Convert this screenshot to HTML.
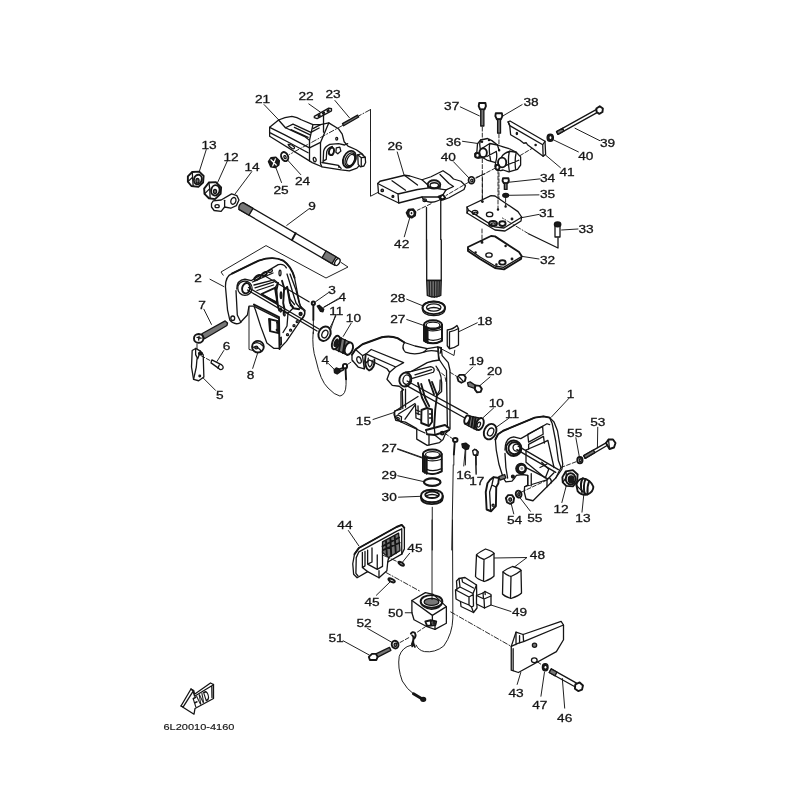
<!DOCTYPE html>
<html><head><meta charset="utf-8"><title>Parts diagram 6L20010-4160</title>
<style>
html,body{margin:0;padding:0;background:#fff;}
svg{display:block}
.d path,.d line,.d polyline,.d polygon,.d ellipse,.d circle,.d rect{fill:none;stroke:#151515;stroke-width:1.3;vector-effect:non-scaling-stroke;stroke-linejoin:round;stroke-linecap:round}
.d .w{fill:#fff}
.d .k{fill:#1a1a1a}
.d .g{fill:#777}
.d .t{stroke-width:0.95}
.d .h{stroke-width:1.9}
.d .dd{stroke-dasharray:5 2 1 2;stroke-width:0.9}
.d .da{stroke-dasharray:4 2;stroke-width:0.9}
.lb text{font-family:"Liberation Sans",sans-serif;font-size:11.6px;fill:#151515;stroke:#151515;stroke-width:0.3px;text-anchor:middle}
</style></head><body>
<svg width="800" height="800" viewBox="0 0 800 800">
<rect width="800" height="800" fill="#fff"/>
<g class="d">
<g transform="translate(260.0 95.0) scale(0.137500)"><!-- t01_p21.svg -->
<!-- part 21 body -->
<path class="w" d="M70,235 L135,182 Q180,160 232,155 Q270,160 300,180 L385,215 L440,215 L500,203 L570,245 L598,285 L612,340 L640,372 L700,398 L745,430 L765,460 L755,500 L725,510 L705,532 L650,552 L590,545 L450,522 L380,492 L70,300 Z"/>
<path d="M70,235 L180,290 L360,385 L360,480"/>
<path d="M75,275 L200,340 L350,420"/>
<path d="M135,182 L185,238 L240,212 L370,272 L430,240"/>
<path d="M185,238 L330,305 L360,330 L360,385"/>
<path d="M225,252 L350,308"/>
<path d="M250,235 L365,290"/>
<path d="M360,330 L385,215"/>
<path d="M385,245 L440,215"/>
<path d="M360,385 L440,345 L500,203"/>
<path d="M440,345 L440,500 L450,522"/>







<path d="M205,360 Q225,355 250,378 Q255,395 235,390 Q210,378 205,360 Z"/>
<ellipse cx="398" cy="470" rx="10" ry="16" transform="rotate(-15 398 470)"/>
<ellipse cx="558" cy="318" rx="7" ry="10"/>
<!-- 22 plate -->
<path class="w" d="M395,155 L500,95 L520,100 L520,115 L415,172 L395,165 Z"/>
<ellipse cx="430" cy="150" rx="8" ry="5" transform="rotate(-30 430 150)"/>
<ellipse cx="462" cy="132" rx="8" ry="5" transform="rotate(-30 462 132)"/>
<ellipse cx="495" cy="113" rx="8" ry="5" transform="rotate(-30 495 113)"/>
<path d="M462,138 L462,270"/>
<!-- 23 stud -->
<path d="M600,208 L710,146 L718,160 L608,224 Z" class="g"/>
<!-- dash-dot line -->
<path class="dd" d="M800,108 L722,150"/>
<path class="dd" d="M600,222 L215,432"/>
<!-- leaders -->
<path class="t" d="M30,70 L135,180"/>
<path class="t" d="M355,65 L440,125"/>
<path class="t" d="M545,40 L650,165"/>
</g>
<g transform="translate(300.0 110.0) scale(0.087500)"><!-- t01b_p21r.svg -->
<path d="M265,585 L270,470 Q280,420 340,392 L440,385 L510,400 L545,385"/>
<path d="M300,565 L305,480 Q315,430 370,415 M300,565 L265,585"/>
<ellipse class="h" cx="360" cy="472" rx="28" ry="44" transform="rotate(15 360 472)"/>
<path d="M415,432 L455,425 L467,470 L432,500 L410,482 Z"/>
<ellipse class="w h" cx="565" cy="562" rx="68" ry="100" transform="rotate(25 565 562)"/>
<ellipse cx="572" cy="568" rx="52" ry="82" transform="rotate(25 572 568)"/>
<ellipse cx="580" cy="572" rx="40" ry="68" transform="rotate(25 580 572)"/>
<path d="M250,600 L440,632 L470,668 M440,632 L445,655"/>
<path class="w" d="M660,512 L700,500 L745,540 L750,600 L730,640 L690,650 L665,622 Z"/>
<path d="M700,545 L700,642 M700,545 L745,540 M660,512 L700,545"/>
</g>
<g transform="translate(180.0 130.0) scale(0.175000)"><!-- t02_nuts.svg -->
<!-- nut 13 -->
<path class="w h" d="M45,265 L70,240 L110,238 L135,262 L132,300 L105,325 L65,320 L45,295 Z"/>
<path d="M70,240 L72,270 L45,295 M72,270 L75,318"/>
<ellipse class="h" cx="102" cy="283" rx="22" ry="28" transform="rotate(15 102 283)"/>
<ellipse class="g" cx="100" cy="290" rx="9" ry="13"/>
<!-- nut 12 -->
<path class="w h" d="M138,335 L165,300 L205,298 L235,328 L232,365 L200,395 L165,390 L140,365 Z"/>
<path d="M165,300 L170,335 L140,365 M170,335 L172,388"/>
<ellipse class="h" cx="202" cy="345" rx="24" ry="30" transform="rotate(15 202 345)"/>
<ellipse class="g" cx="200" cy="352" rx="9" ry="12"/>
<!-- 14 bracket -->
<path class="w" d="M180,420 L190,405 L235,400 L295,365 L325,375 L337,400 L322,432 L290,447 L255,440 L235,465 L195,460 L180,440 Z"/>
<path d="M255,402 L255,440"/>
<ellipse cx="212" cy="435" rx="12" ry="9"/>
<ellipse cx="305" cy="405" rx="14" ry="20" transform="rotate(20 305 405)"/>
<!-- nut 25 -->
<path class="k" d="M505,180 L520,158 L548,155 L568,175 L565,200 L545,215 L518,210 Z"/>
<path d="M520,170 L550,200 M545,165 L530,205" style="stroke:#fff"/>
<!-- washer 24 -->
<ellipse class="w h" cx="598" cy="152" rx="19" ry="27" transform="rotate(-25 598 152)"/>
<ellipse cx="600" cy="155" rx="6" ry="9" transform="rotate(-25 600 155)"/>
<!-- leaders -->
<path class="t" d="M150,112 L110,238 M270,178 L215,300 M410,238 L315,365 M690,255 L615,172 M580,300 L545,208 M735,452 L610,545"/>
</g>
<g transform="translate(210.0 190.0) scale(0.200000)"><!-- t03_shaft.svg -->
<!-- shaft 9 -->
<path class="w" d="M165,63 L645,343 L625,377 L145,97 Z"/>
<path class="g" d="M165,63 L215,92 L195,126 L145,97 Q140,70 165,63 Z"/>
<path class="g" d="M580,305 L630,334 L610,368 L560,339 Z"/>
<ellipse class="w" cx="637" cy="360" rx="11" ry="19" transform="rotate(30 637 360)"/>
<path d="M428,216 L410,250" class="h"/>
<!-- frame -->
<path class="t" d="M66,426 L55,410 L280,278 L580,440 L690,385 L655,362"/>
</g>
<g transform="translate(210.0 250.0) scale(0.162500)"><!-- t04_br2.svg -->
<!-- bracket 2 -->
<path class="w" d="M95,225 Q95,160 135,145 L300,65 Q390,35 450,65 Q500,100 520,170 L545,300 L555,345 L585,372 L580,400 L470,562 L430,605 L392,605 L350,572 L312,470 L280,370 L270,345 L240,345 L230,400 L185,448 Q150,465 122,432 L108,370 Z"/>
<path class="h" d="M135,145 L300,65 Q390,35 450,65 Q500,100 520,170"/>
<path d="M160,250 L168,400 L190,445"/>
<path d="M165,240 Q165,185 215,180 L255,188 L420,90 Q455,82 470,110"/>
<circle cx="215" cy="235" r="44"/>
<ellipse class="h" cx="222" cy="235" rx="24" ry="32" transform="rotate(15 222 235)"/>
<ellipse cx="140" cy="420" rx="12" ry="14"/>
<!-- rods -->

<!-- 3 clip -->
<circle class="w h" cx="636" cy="327" r="10"/>
<path class="h" d="M636,338 L636,430"/>
<path class="t" d="M636,430 L636,515"/>
<!-- 4 screw -->
<path class="k" d="M660,345 L672,340 L700,365 L695,380 L680,378 Z"/>
<!-- 11 washer -->
<ellipse class="w h" cx="705" cy="515" rx="36" ry="46" transform="rotate(25 705 515)"/>
<ellipse cx="707" cy="517" rx="17" ry="25" transform="rotate(25 707 517)"/>
<!-- 8 grommet -->
<circle class="w h" cx="295" cy="595" r="36"/>
<path d="M270,575 Q300,560 325,590 M262,600 Q290,585 315,622"/>
<circle cx="285" cy="600" r="9"/>
<!-- bracket line for 8 -->
<path class="t" d="M240,350 L240,612 L262,618"/>
<!-- leaders -->
<path class="t" d="M0,180 L85,225 M730,262 L650,318 M800,298 L700,352 M775,405 L735,485"/>
</g>
<g transform="translate(240.0 270.0) scale(0.100000)"><!-- t04b_br2in.svg -->
<!-- upper plate slots -->
<ellipse class="h" cx="175" cy="75" rx="38" ry="17" transform="rotate(-35 175 75)"/>
<ellipse class="h" cx="245" cy="40" rx="28" ry="14" transform="rotate(-35 245 40)"/>
<ellipse cx="305" cy="12" rx="22" ry="11" transform="rotate(-30 305 12)"/>
<ellipse cx="400" cy="30" rx="10" ry="28"/>
<!-- upper plate edges & ribs -->
<path d="M125,120 L330,30 M140,150 L340,98 L380,130 M150,178 L335,122 M170,205 L335,150"/>
<!-- triangular window -->
<path class="h" d="M215,240 L350,178 L375,335 Z"/>
<path d="M228,252 L368,322 M350,178 L380,130"/>
<!-- strut -->
<path class="h" d="M380,130 L365,200 L375,340 L392,405 M420,108 L442,180 L432,330 L447,400"/>
<ellipse class="k" cx="410" cy="252" rx="8" ry="34"/>
<ellipse cx="407" cy="400" rx="8" ry="20"/><ellipse cx="442" cy="440" rx="8" ry="20" transform="rotate(-15 442 440)"/>
<!-- right plates -->
<path d="M470,40 L520,200 L560,330 L600,380 M500,40 L560,200 L592,330 L618,388"/>
<path class="h" d="M440,200 L472,168 L482,232 L500,330 L532,382 L592,392"/>
<path d="M472,168 L500,290 L545,345 M505,355 Q530,350 535,380"/>
<!-- lower right boss and holes -->
<path d="M600,380 Q650,395 648,440 Q640,480 600,505 M530,382 L480,432 L420,402"/>
<circle class="h" cx="606" cy="440" r="12"/>
<circle cx="572" cy="517" r="10"/><circle cx="540" cy="557" r="10"/><circle cx="506" cy="602" r="10"/><circle cx="475" cy="647" r="10"/>
<path d="M480,432 L470,560 L430,625"/>
<!-- lower body -->
<path class="h" d="M140,345 L390,472 L395,790"/>
<path d="M152,368 L382,484 M140,345 L152,368"/>
<path class="h" d="M290,490 L380,512 L385,632 L300,612 Z"/>
<path d="M305,505 L305,600 M370,520 L372,620"/>
<circle class="k" cx="372" cy="525" r="5"/><circle class="k" cx="368" cy="600" r="5"/>
<path d="M397,682 L412,672 L414,742 L399,752 Z"/>
<!-- rods -->
<path d="M85,175 L790,590 M75,200 L770,610 M250,60 L690,318"/>
</g>
<g transform="translate(175.0 290.0) scale(0.137500)"><!-- t05_p7.svg -->
<!-- screw 7 -->
<path class="g" d="M195,318 L365,225 L382,240 L378,258 L215,355 Z"/>
<ellipse class="w h" cx="172" cy="352" rx="34" ry="32"/>
<path d="M160,345 L190,350 M175,335 L172,365"/>
<path class="t" d="M160,395 L160,430"/>
<!-- 5 plate -->
<path class="w" d="M125,440 L150,425 L185,445 L205,470 L210,632 L172,660 L135,650 L120,560 Z"/>
<path d="M150,425 L150,470 L165,500 L185,445 M135,650 L155,560 L160,500"/>
<ellipse class="k" cx="185" cy="462" rx="14" ry="10"/>
<circle cx="180" cy="625" r="6"/>
<!-- 6 pin -->
<path class="w" d="M268,508 L340,545 Q358,560 345,575 Q330,585 318,570 L262,530 Z"/>
<path d="M322,545 L312,568"/>
<path class="da" d="M190,478 L265,518"/>
<!-- leaders -->
<path class="t" d="M210,140 L265,250 M355,440 L305,520 M600,462 L565,570 M295,730 L205,640"/>
</g>
<g transform="translate(345.0 325.0) scale(0.175000)"><!-- t06_p15.svg -->
<!-- part 15 swivel bracket -->
<path class="w" d="M40,170 L60,140 L100,110 L210,70 Q260,60 300,75 L340,100 L400,120 L470,135 L530,125 L550,130 L555,175 L590,215 L600,260 L600,595 L575,618 L560,655 L540,672 L470,688 L410,652 L410,592 L345,555 L290,545 L280,510 L285,490 L320,480 L320,380 L335,370 L310,350 L270,345 L240,310 L255,270 L240,250 L140,200 L120,215 L110,250 L75,240 L40,200 Z"/>
<path class="h" d="M40,170 L60,140 L100,110 L210,70 Q260,60 300,75 L340,100"/>
<ellipse cx="80" cy="200" rx="12" ry="19" transform="rotate(-20 80 200)"/>
<path d="M60,140 L100,175 L110,250 M100,175 L120,165"/>
<path d="M120,165 L150,140 L335,215 L290,240 L255,270 M120,165 L290,240"/>
<path class="h" d="M118,172 Q105,240 138,260 Q172,245 168,197"/><path d="M133,190 Q126,230 142,240 Q158,230 155,202"/>
<path d="M340,100 Q320,130 345,155 Q400,175 450,155 L470,135"/>
<path d="M450,155 Q480,140 530,150 L540,200 M530,125 L535,195 M550,130 L545,160"/>
<path d="M540,200 Q500,205 470,215 L380,265 L345,270"/>
<ellipse class="h" cx="345" cy="312" rx="34" ry="40" transform="rotate(15 345 312)"/>
<ellipse cx="352" cy="312" rx="20" ry="27" transform="rotate(15 352 312)"/>
<path d="M350,272 L490,238 Q520,245 505,270 L385,305 M400,285 L495,255"/>
<path d="M540,200 L580,260 L585,585 M520,235 Q560,280 552,380 L530,400"/>
<path class="da" d="M525,255 L570,290 L580,335"/>
<!-- rods -->
<path d="M355,320 L700,508 M345,342 L682,530"/>
<!-- 19 washer & 20 bolt -->
<path class="da t" d="M600,270 L642,296"/>
<path class="w h" d="M642,300 L655,285 L680,285 L690,300 L685,320 L665,330 L648,320 Z"/>
<path d="M655,300 L672,318"/>
<path class="g" d="M700,330 L715,325 L745,345 L740,362 L705,350 Z"/>
<path class="w h" d="M745,345 L770,348 L782,365 L775,382 L755,385 L742,368 Z"/>
<!-- lower clip, 16, 17 -->
<path class="da t" d="M572,620 L615,650"/>
<ellipse class="w h" cx="630" cy="657" rx="13" ry="11"/>
<path class="h" d="M627,668 L622,740"/>
<path class="t" d="M622,740 L622,800"/>
<path class="k" d="M668,680 L690,675 L710,690 L705,708 L690,712 L672,700 Z"/>
<path class="t" d="M690,712 L688,800"/>
<path class="w" d="M735,725 L748,712 L762,725 L758,745 L740,745 Z"/>
<path class="t" d="M750,745 L750,800"/>
<!-- leaders -->
<path class="t" d="M730,240 L680,290 M160,540 L280,500 M300,710 L440,760"/>
</g>
<g transform="translate(385.0 370.0) scale(0.100000)"><!-- t06b_p15in.svg -->
<!-- left leg -->
<path d="M172,185 L178,385 M205,192 L205,372"/>
<!-- diagonals -->
<path d="M95,415 L330,265 M135,440 L300,335"/>
<!-- lower-left lug -->
<path d="M95,415 L100,470 L130,500 L160,520 M100,470 L130,450 L165,468 L162,520"/>
<ellipse cx="130" cy="485" rx="14" ry="9" transform="rotate(30 130 485)"/>
<!-- floor & inner wall -->
<path d="M160,520 L400,630 M200,492 L300,352 L305,345 L310,480 L362,502 M330,360 L332,445"/>
<path d="M310,400 L350,415 M310,430 L350,445"/>
<!-- center ribs -->
<path class="h" d="M330,130 L372,282 L422,382 M362,140 L402,282 L442,362"/>
<path class="h" d="M470,120 L520,250 L502,400 L492,562 M440,100 L490,242"/>
<path d="M520,250 L548,200 L552,100"/>
<!-- center box -->
<path class="h" d="M365,400 L420,380 L470,395 L470,520 L440,560 L362,530 Z"/>
<path d="M430,400 L432,545 M445,440 L470,440 M445,480 L470,480"/>
<!-- bottom flange -->
<path class="h" d="M410,600 L600,550 L640,580 M420,642 L500,650 L640,602"/>
<path d="M410,600 L420,642 M492,562 L500,650"/>
<!-- lower cylinder -->
<path d="M440,650 L440,750 M500,652 L560,700"/>
<circle class="h" cx="572" cy="632" r="14"/>
</g>
<g transform="translate(365.0 140.0) scale(0.150000)"><!-- t07_p26.svg -->
<!-- tube upper -->
<path class="w" d="M410,440 L410,800 L505,800 L505,385 Z" style="stroke:none"/>
<path d="M410,450 L410,800 M505,392 L505,800"/>
<!-- part 26 -->
<path class="w" d="M85,290 L100,275 L265,235 L300,240 L380,265 L440,245 L520,205 L565,235 L590,260 L640,275 L670,305 L660,330 L560,385 L520,400 L500,380 L380,380 L225,420 L90,355 Z"/>
<path d="M85,290 L220,360 L225,420 M220,360 L350,330 L440,318"/>
<path d="M180,272 L270,335 M265,237 L350,300"/>
<path d="M380,265 L440,318 L540,332 L590,310 L560,290 L500,230"/>
<path d="M540,332 L520,365 L500,380"/>
<ellipse class="w h" cx="460" cy="296" rx="42" ry="28"/>
<ellipse cx="462" cy="302" rx="28" ry="17"/>
<path d="M420,300 L420,318 M500,300 L500,322"/>
<path d="M380,380 Q390,410 440,415 Q490,410 505,392"/>
<path class="h" d="M490,378 L520,365 L535,385 L510,400 Z"/>
<ellipse cx="398" cy="402" rx="12" ry="9"/>
<circle class="g" cx="115" cy="336" r="8"/>
<circle class="g" cx="186" cy="376" r="6"/>
<!-- line from 23 -->
<path class="t" d="M36.7,0 L36.7,375 L85,350"/>
<!-- 40 washer -->
<ellipse class="w" cx="710" cy="268" rx="20" ry="23" style="stroke-width:1.7"/>
<ellipse cx="712" cy="270" rx="7" ry="9"/>
<path class="t" d="M740,250 L800,225"/>
<path class="da t" d="M690,282 L540,370 M440,425 L350,468"/>
<!-- 42 nut -->
<path class="k" d="M275,485 L290,462 L322,460 L338,480 L335,505 L312,520 L288,512 Z"/>
<ellipse cx="310" cy="488" rx="10" ry="12" style="stroke:#fff"/>
<!-- leaders -->
<path class="t" d="M215,80 L260,232 M590,145 L692,252 M262,645 L298,520"/>
</g>
<g transform="translate(385.0 240.0) scale(0.150000)"><!-- t08_tube.svg -->
<!-- tube lower -->
<path class="w" d="M278,0 L278,270 L375,270 L375,0" />
<path class="g" d="M278,270 L375,270 L372,370 Q325,390 282,370 Z"/>
<path d="M295,275 L297,375 M312,275 L313,380 M330,275 L330,382 M347,275 L346,380 M362,275 L360,375" style="stroke:#222"/>
<!-- 28 washer -->
<path class="w" d="M250,452 Q250,412 325,410 Q400,412 400,452 L400,462 Q400,502 325,504 Q250,502 250,462 Z"/>
<ellipse class="h" cx="325" cy="452" rx="75" ry="42"/>
<ellipse cx="325" cy="450" rx="48" ry="24"/>
<path d="M282,460 Q325,440 368,460"/>
<!-- 27 bushing -->
<path class="w" d="M260,565 L260,670 Q320,705 380,670 L380,565 Z"/>
<ellipse class="w h" cx="320" cy="565" rx="60" ry="30"/>
<ellipse cx="320" cy="568" rx="46" ry="20"/>
<path class="h" d="M260,565 L260,672 Q320,706 380,672 L380,565"/>
<path class="h" d="M272,580 L272,680 M284,590 L284,686"/>
<path d="M284,600 Q320,615 380,595 M284,660 Q320,680 380,655"/>
<!-- 18 shim -->
<path class="w" d="M415,600 Q455,595 480,570 L490,590 L490,700 Q460,722 430,725 L415,705 Z"/>
<path d="M430,612 L430,722 M430,612 Q465,605 490,590"/>
<path class="t" d="M360,760 L355,715 L460,770 L465,735"/>
<!-- leaders -->
<path class="t" d="M145,395 L255,440 M145,530 L265,572 M615,552 L495,610"/>
</g>
<g transform="translate(440.0 90.0) scale(0.225000)"><!-- t09_p36.svg -->
<!-- bolt 37 -->
<path class="w h" d="M174,58 L202,58 L204,72 L198,86 L178,86 L172,72 Z"/>
<path class="g" d="M181,86 L195,86 L195,160 L181,160 Z"/>
<!-- bolt 38 -->
<path class="w h" d="M248,103 L275,103 L277,116 L271,130 L253,130 L246,116 Z"/>
<path class="g" d="M256,130 L269,130 L269,192 L256,192 Z"/>
<path class="da t" d="M188,165 L188,225 M262,195 L262,262 M188,305 L188,489 M262,368 L262,489"/>
<!-- 40 left dashed -->
<path class="da t" d="M160,392 L250,345"/>
<path class="da t" d="M355,292 L425,250"/>
<!-- 40 right washer -->
<ellipse class="k" cx="490" cy="212" rx="14" ry="16"/>
<ellipse cx="491" cy="212" rx="4" ry="6" style="stroke:none;fill:#fff"/>
<!-- 39 bolt -->
<path class="w" d="M518,185 L700,84 L706,96 L524,197 Z"/>
<path class="g" d="M518,185 L545,170 L551,182 L524,197 Z"/>
<path class="w h" d="M695,82 L710,72 L724,82 L722,98 L708,106 L696,98 Z"/>
<!-- 34 bolt -->
<path class="w h" d="M280,392 L304,392 L306,404 L300,414 L284,414 L278,404 Z"/>
<path class="g" d="M286,414 L298,414 L298,442 L286,442 Z"/>
<!-- 35 -->
<ellipse class="k" cx="292" cy="468" rx="13" ry="9"/>
<!-- leaders -->
<path class="t" d="M90,75 L175,115 M365,65 L280,115 M100,228 L170,238 M535,345 L470,290 M615,275 L505,222 M710,225 L600,170 M445,395 L306,410 M440,466 L308,468"/>
</g>
<g transform="translate(450.0 170.0) scale(0.200000)"><!-- t10_p31.svg -->
<!-- 31 plate -->
<path class="w" d="M85,185 L205,128 L225,130 L340,208 L358,235 L355,255 L275,305 L225,300 L150,255 L85,215 Z"/>
<path d="M85,185 L92,200 L150,238 L222,284 L270,290 L352,240 L358,235 M92,200 L85,215"/>
<ellipse cx="125" cy="212" rx="14" ry="10"/><path d="M115,218 Q125,205 138,214"/>
<ellipse cx="198" cy="222" rx="16" ry="11"/>
<ellipse class="h" cx="215" cy="268" rx="20" ry="13"/><ellipse cx="217" cy="270" rx="10" ry="6"/>
<ellipse class="h" cx="262" cy="268" rx="16" ry="12"/>
<circle cx="162" cy="158" r="4"/><circle cx="240" cy="198" r="3"/><circle cx="278" cy="182" r="3"/><circle cx="310" cy="245" r="4"/>
<!-- 32 gasket -->
<path class="w h" d="M90,385 L205,330 L225,332 L345,410 L358,430 L355,445 L270,497 L225,490 L150,445 L90,405 Z"/>
<path d="M92,395 L150,435 L225,480 L268,487 L352,437"/>
<ellipse cx="195" cy="425" rx="16" ry="11"/>
<ellipse class="h" cx="262" cy="462" rx="16" ry="11"/>
<circle cx="160" cy="362" r="4"/><circle cx="128" cy="412" r="3"/><circle cx="278" cy="380" r="3"/><circle cx="310" cy="445" r="4"/><circle cx="232" cy="472" r="3"/>
<!-- 33 pin -->
<path class="w" d="M525,280 L525,335 L550,335 L550,280 Z"/>
<ellipse class="k" cx="538" cy="272" rx="16" ry="12"/>
<path d="M540,340 L540,390 L395,320"/>
<path class="dd" d="M395,320 L262,240"/>
<!-- vertical lines -->
<path class="da t" d="M162,40 L162,152 M240,0 L240,192 M278,140 L278,178 M160,295 L160,358"/>
<!-- leaders -->
<path class="t" d="M445,222 L360,238 M640,295 L558,300 M445,445 L360,432"/>
</g>
<g transform="translate(470.0 380.0) scale(0.175000)"><!-- t11_br1.svg -->
<!-- bracket 1 -->
<path class="w" d="M145,340 L160,310 L190,290 L370,215 L420,208 L455,215 L480,240 L500,290 L515,380 L530,480 L525,510 L490,560 L440,610 L360,690 L320,680 L310,640 L312,610 L330,600 L330,545 L300,540 L265,545 L255,560 L240,578 L205,582 L190,560 L165,480 L150,400 Z"/>
<path class="h" d="M145,340 L160,310 L190,290 L370,215 L420,208 L455,215"/>
<path d="M455,215 L470,250 L490,350 L505,460 L520,500 L490,560"/>
<path d="M200,420 L205,500 L215,560 M200,400 Q200,330 250,325 L290,335 L440,250 L455,255"/>
<circle class="w h" cx="250" cy="390" r="44"/>
<circle class="h" cx="254" cy="390" r="34"/>
<circle class="w" cx="266" cy="386" r="20"/>
<circle class="k" cx="292" cy="506" r="30"/>
<circle cx="296" cy="506" r="12" style="stroke:#fff;fill:#999"/>
<path d="M330,310 L415,265 L418,310 L335,355 Z M335,368 L420,322 L425,360 M335,368 L335,395"/>
<path d="M320,400 L425,355 L445,345 L480,500 M320,400 L320,470 L430,560 M410,470 L450,510 L430,560 M400,500 L440,480"/>
<path d="M330,545 L330,600 M350,535 L350,605 M312,610 L440,570 L480,530"/>
<path d="M440,570 L440,610 M455,560 Q470,575 462,590"/>
<!-- rods -->
<path d="M275,378 L505,512 M268,398 L490,528 M315,498 L445,565"/>
<path class="da t" d="M520,500 L612,465 M295,640 L440,572"/>
<!-- lever -->
<path class="w h" d="M115,570 L135,555 L165,560 L162,590 L150,612 L148,720 L120,750 L95,740 L90,640 L100,590 Z"/>
<path d="M135,555 L125,600 L112,640 L118,748 M125,600 L150,612"/>
<circle cx="132" cy="716" r="6"/>
<path class="g" d="M165,552 L198,540 L205,560 L172,572 Z"/>
<circle class="k" cx="245" cy="552" r="8"/>
<!-- 54 nut -->
<path class="w h" d="M205,675 L218,658 L240,658 L252,675 L248,698 L230,708 L212,700 Z"/>
<ellipse class="g" cx="230" cy="683" rx="8" ry="10"/>
<!-- 55 washers -->
<ellipse class="w h" cx="278" cy="652" rx="16" ry="20" transform="rotate(-20 278 652)"/>
<ellipse class="g" cx="279" cy="653" rx="6" ry="9"/>
<ellipse class="w h" cx="628" cy="458" rx="15" ry="18"/>
<ellipse cx="630" cy="458" rx="6" ry="8"/>
<!-- 53 bolt -->
<path class="w" d="M650,432 L790,352 L798,366 L658,448 Z"/>
<path class="g" d="M650,432 L705,400 L713,415 L658,448 Z"/>

<!-- 12 nut -->
<path class="w h" d="M528,555 L548,522 L588,515 L615,540 L612,580 L588,608 L550,605 L530,585 Z"/>
<ellipse class="h" cx="575" cy="565" rx="28" ry="32"/>
<ellipse class="k" cx="578" cy="568" rx="16" ry="20"/>
<path d="M548,522 L552,555 L530,585"/>
<!-- 13 cap nut -->
<path class="w h" d="M608,600 Q612,570 645,562 Q690,570 705,610 Q705,640 670,655 Q635,660 615,635 Z"/>
<path class="h" d="M645,562 Q625,590 640,640 M660,566 Q645,600 655,650 M680,580 Q668,610 672,652"/>
<path d="M608,600 Q625,625 670,655"/>
<!-- 11 washer & 10 & 17 -->
<ellipse class="w h" cx="115" cy="295" rx="34" ry="46" transform="rotate(25 115 295)"/>
<ellipse cx="118" cy="297" rx="16" ry="24" transform="rotate(25 118 297)"/>
<path class="w" d="M15,405 L28,395 L42,408 L38,428 L20,428 Z"/>
<!-- leaders -->
<path class="t" d="M565,105 L465,212 M135,160 L75,215 M220,220 L150,270 M730,270 L728,388 M605,330 L625,440 M32,432 L35,540 M525,700 L550,605 M640,755 L650,658 M345,750 L285,672 M250,765 L235,705"/>
</g>
<g transform="translate(440.0 390.0) scale(0.100000)"><!-- t12_b10.svg -->
<path class="g" d="M265,255 L390,280 L365,400 L248,340 Z"/>
<path d="M300,265 L285,355 M330,270 L315,372 M355,276 L340,385" class="h"/>
<ellipse class="w h" cx="270" cy="296" rx="24" ry="44" transform="rotate(22 270 296)"/>
<ellipse class="w h" cx="398" cy="340" rx="36" ry="62" transform="rotate(20 398 340)"/>
<ellipse class="w" cx="388" cy="346" rx="15" ry="26" transform="rotate(20 388 346)"/>
</g>
<g transform="translate(310.0 290.0) scale(0.175000)"><!-- t13_b10l.svg -->
<path class="g" d="M150,262 L232,300 L215,372 L140,338 Z"/>
<path class="h" d="M178,275 L165,350 M200,285 L188,360"/>
<ellipse class="w h" cx="148" cy="300" rx="20" ry="40" transform="rotate(20 148 300)"/>
<ellipse class="k" cx="150" cy="302" rx="10" ry="22" transform="rotate(20 150 302)"/>
<ellipse class="w h" cx="222" cy="335" rx="22" ry="36" transform="rotate(20 222 335)"/>
<!-- wire arc from clip 3 -->
<path class="t" d="M18,240 Q10,330 34,400 Q60,520 103,560 Q140,600 171,606 Q205,600 206,540 L206,505"/>
<!-- lower screw 4 and clip -->
<path class="k" d="M138,455 L150,445 L168,452 L170,470 L155,480 L140,472 Z"/>
<path class="g" d="M168,452 L188,444 L192,456 L172,466 Z"/>
<ellipse class="w h" cx="200" cy="435" rx="12" ry="13"/>
<path class="h" d="M203,448 L206,510"/>
<path class="da t" d="M215,425 L245,405"/>
<!-- upper 4 screw head -->
<path class="t" d="M145,145 L115,235 M235,190 L190,265 M105,420 L140,455 M160,50 L80,98"/>
</g>
<g transform="translate(370.0 430.0) scale(0.150000)"><!-- t14_p27.svg -->
<!-- 27 bushing -->
<path class="w" d="M353,160 L353,275 Q415,312 478,275 L478,160 Z"/>
<ellipse class="w h" cx="415" cy="160" rx="62" ry="30"/>
<ellipse cx="417" cy="164" rx="47" ry="20"/>
<path class="h" d="M353,160 L353,276 Q415,312 478,276 L478,160"/>
<path class="h" d="M365,178 L365,285 M378,188 L378,292"/>
<path d="M378,200 Q420,215 478,195 M378,262 Q420,282 478,258"/>
<!-- 29 o-ring -->
<ellipse class="w" cx="415" cy="348" rx="55" ry="25" style="stroke-width:2.2"/>
<!-- 30 seal -->
<path class="w h" d="M340,440 Q340,400 412,398 Q485,400 485,440 L485,452 Q485,492 412,494 Q340,492 340,452 Z"/>
<path class="h" d="M340,440 Q340,480 412,482 Q485,480 485,440"/>
<ellipse class="h" cx="414" cy="432" rx="46" ry="21"/>
<path d="M372,440 Q414,420 456,440"/>
<!-- vertical line -->
<path class="t" d="M415,515 L415,800"/>
<path class="t" d="M555,233 L545,800"/>
<!-- leaders -->
<path class="t" d="M185,125 L355,185 M185,305 L362,345 M190,448 L340,442 M635,130 L625,240 M705,175 L708,290"/>
</g>
<g transform="translate(330.0 520.0) scale(0.175000)"><!-- t15_p44.svg -->
<!-- part 44 -->
<path class="w" d="M130,250 L140,195 L165,160 L380,40 L410,28 L425,45 L425,165 L410,195 L330,240 L325,290 L280,330 L215,295 L155,330 L135,310 Z"/>
<path class="h" d="M140,195 L165,160 L380,40 L410,28 L425,45"/>
<path d="M150,215 L165,182 L385,62 L408,52 M150,215 L148,305 L160,320 M410,50 L410,195"/>
<path d="M185,185 L185,272 L215,295 M185,272 L200,262 L200,180 M215,172 L215,252 L270,282 L300,265 L300,180 M240,160 L240,240 M270,282 L270,200 M215,252 L240,240 M280,330 L280,290"/>
<path class="g" d="M300,125 L392,75 L400,175 L335,215 L300,185 Z"/>
<path class="h" d="M320,120 L325,200 M345,105 L350,205 M370,92 L376,190 M300,150 L395,100 M302,172 L398,130"/>
<path d="M330,240 L335,215"/>
<!-- 45 pins -->
<ellipse class="w h" cx="407" cy="250" rx="18" ry="7" transform="rotate(30 407 250)"/>
<ellipse class="w h" cx="352" cy="345" rx="20" ry="8" transform="rotate(25 352 345)"/>
<path class="dd" d="M300,200 L390,240 M320,300 L520,410"/>
<!-- part 50 -->
<path class="w" d="M468,460 L545,415 L590,425 L665,495 L665,590 L600,625 L555,610 L480,570 L468,530 Z"/>
<path d="M468,460 L585,545 L665,495 M585,545 L585,575 M600,600 L600,625"/>
<ellipse class="h" cx="580" cy="465" rx="62" ry="36"/>
<ellipse class="g" cx="580" cy="468" rx="42" ry="20"/>
<path d="M520,470 Q525,505 580,510 Q635,505 642,470"/>
<path class="h" d="M545,580 L575,573 L607,580 L602,600 L555,606 Z M575,573 L578,600"/>
<circle cx="592" cy="588" r="5"/>
<!-- vertical line into hole -->
<path class="t" d="M583,0 L583,455"/>
<!-- wire -->
<path class="t" d="M700,0 L702,560 Q700,650 650,720 Q600,760 540,752 Q505,745 492,715"/>
<!-- clip -->
<path class="h" d="M462,650 Q470,635 485,645 Q495,665 478,680 Q470,700 485,725 M470,660 Q480,665 475,690 Q465,710 470,722"/>

<path class="da t" d="M400,700 L458,668 M500,640 L545,610"/>
<!-- 52 washer -->
<ellipse class="w h" cx="372" cy="712" rx="19" ry="22" transform="rotate(-15 372 712)"/>
<ellipse class="g" cx="374" cy="713" rx="8" ry="10"/>
<!-- 51 bolt -->
<path class="g" d="M262,765 L340,728 L348,745 L270,785 Z"/>
<path class="w h" d="M222,782 L240,765 L262,765 L272,782 L265,800 L228,800 Z"/>
<!-- line to 43 -->

<!-- leaders -->
<path class="t" d="M105,60 L165,148 M455,190 L415,240 M265,430 L342,355 M430,530 L470,530 M215,620 L355,700 M75,690 L225,772"/>
</g>
<g transform="translate(440.0 530.0) scale(0.237500)"><!-- t16_p43.svg -->
<!-- 43 plate -->
<path class="w" d="M300,490 L320,430 L350,440 L510,385 L520,400 L520,462 L490,512 L330,600 L300,590 Z"/>
<path d="M300,490 Q330,475 352,470 L520,400 M320,430 L320,482 M335,445 L335,476 M350,440 L352,470 M308,500 L308,592"/>
<circle class="g" cx="398" cy="485" r="9"/>
<ellipse cx="397" cy="548" rx="12" ry="10"/>
<!-- 47, 46 -->
<path class="da t" d="M410,555 L432,570"/>
<ellipse class="k" cx="443" cy="578" rx="12" ry="15"/>
<ellipse cx="444" cy="578" rx="4" ry="5" style="stroke:none;fill:#fff"/>
<path class="w" d="M468,585 L575,645 L568,660 L460,600 Z"/>
<path class="g" d="M468,585 L492,598 L485,614 L460,600 Z"/>
<path class="w h" d="M570,650 L588,642 L602,655 L598,672 L582,678 L568,668 Z"/>
<!-- line from 50 -->
<path class="dd" d="M45,345 L300,490"/>
<!-- leaders -->
<path class="t" d="M325,650 L340,600 M425,700 L440,598 M525,750 L515,625"/>
</g>
<g transform="translate(170.0 670.0) scale(0.100000)"><!-- t17_fwd.svg -->
<path class="w" d="M110,360 L210,190 L238,205 L245,242 L405,130 L435,145 L435,285 L250,385 L240,442 Z"/>
<path d="M132,368 L232,212 L246,262 L418,158 L435,145 M232,212 L210,190 M132,368 L110,360 M418,158 L420,275"/>
</g>
<g transform="translate(370.0 600.0) scale(0.150000)"><!-- t18_wire.svg -->
<path class="t" d="M272,302 Q215,315 195,375 Q182,450 215,540 Q245,595 295,630"/>
<path class="h" d="M290,625 L340,655" style="stroke-width:3"/>
<ellipse class="k" cx="355" cy="662" rx="16" ry="13"/>
</g>
<g transform="translate(460.0 120.0) scale(0.125000)"><!-- t19_p36b.svg -->
<!-- part 36 -->
<path class="w" d="M140,190 L165,160 L220,148 L255,165 L300,200 L345,215 L400,232 L450,258 L485,295 L485,360 L460,395 L390,415 L345,400 L325,405 L295,400 L280,370 L285,340 L215,320 L180,300 L150,305 L120,295 L118,270 L135,255 Z"/>
<path d="M165,160 Q150,195 162,232 M178,226 L238,188 L300,200 M215,292 L290,252 M238,188 Q228,240 245,325"/>
<path d="M330,300 Q350,262 400,250 L450,258 M362,366 L470,322 M395,250 Q380,320 395,412 M450,258 Q435,320 445,395"/>
<path d="M290,252 Q300,290 285,340 M300,200 L312,240"/>
<ellipse class="w h" cx="185" cy="262" rx="30" ry="36"/>
<ellipse class="w h" cx="140" cy="283" rx="17" ry="19"/>
<ellipse class="w h" cx="337" cy="340" rx="33" ry="39"/>
<ellipse class="w h" cx="300" cy="378" rx="16" ry="20"/>
<circle cx="176" cy="174" r="5"/><circle cx="232" cy="160" r="5"/><circle cx="313" cy="242" r="5"/>
<!-- 41 plate -->
<path class="w" d="M385,15 L400,8 L680,170 L685,275 L665,290 L540,198 L530,182 L510,186 L480,162 L405,118 L398,45 Z"/>
<path d="M385,15 L398,45 L662,198 L680,170 M662,198 L665,290"/>
<ellipse cx="455" cy="108" rx="5" ry="8"/><circle cx="605" cy="200" r="5"/>
</g>
<g transform="translate(0.0 0.0) scale(1.000000)"><!-- t20_misc.svg -->
<path class="t" d="M490,377 L480,385.5"/>
<path class="t" d="M370.5,109.5 L370.5,141"/>
<path class="w h" d="M606,443 L608.5,439.5 L613,439.5 L615.5,443 L614,447.5 L609.5,449 Z"/>
<path d="M608.5,439.5 L609.5,449"/>
</g>
<g transform="translate(450.0 540.0) scale(0.100000)"><!-- t21_p48.svg -->
<path class="w" d="M265,150 Q270,135 355,90 Q435,115 440,135 L440,360 Q420,385 345,415 Q270,390 255,365 Z"/>
<path d="M265,150 Q300,185 340,195 Q400,170 440,135 M340,195 L335,410"/>
<path class="w" d="M530,320 Q535,305 625,265 Q705,285 710,305 L715,530 Q695,555 610,585 Q540,560 525,540 Z"/>
<path d="M530,320 Q570,355 610,365 Q670,340 710,305 M610,365 L605,580"/>
<!-- 49 -->
<path class="w" d="M65,410 L90,385 L150,375 L265,450 L270,680 L235,725 L110,665 L105,615 L60,590 L55,500 L70,490 Z"/>
<path d="M90,385 L100,470 L70,490 M100,470 L230,535 L265,450 M120,390 L125,420 L235,480 M58,500 L190,570 L190,650 L105,615 M190,570 L232,545 M232,535 L235,660 L215,670 L235,725 M190,650 L215,670"/>
<path class="w" d="M265,555 L330,530 L350,515 L410,545 L410,650 L345,680 L265,640 Z"/>
<path d="M265,555 L340,590 L410,560 M340,590 L345,680 M330,530 L335,585 M350,515 L352,545"/>
<path class="t" d="M445,180 L770,175 L650,265 M410,650 L610,715"/>
</g>
</g>
<g class="lb" style="opacity:0.999">
<text x="163.5" y="729.8" textLength="71" lengthAdjust="spacingAndGlyphs" style="font-size:9.5px;text-anchor:start;stroke-width:0.15px">6L20010-4160</text>
<text transform="translate(262.5 103.1) scale(1.18 1)">21</text>
<text transform="translate(306 100.1) scale(1.18 1)">22</text>
<text transform="translate(333 98.1) scale(1.18 1)">23</text>
<text transform="translate(209 149.1) scale(1.18 1)">13</text>
<text transform="translate(231 161.1) scale(1.18 1)">12</text>
<text transform="translate(252 171.1) scale(1.18 1)">14</text>
<text transform="translate(302.5 185.1) scale(1.18 1)">24</text>
<text transform="translate(281 194.1) scale(1.18 1)">25</text>
<text transform="translate(312 210.1) scale(1.18 1)">9</text>
<text transform="translate(198 281.6) scale(1.18 1)">2</text>
<text transform="translate(202 308.6) scale(1.18 1)">7</text>
<text transform="translate(226.6 349.8) scale(1.18 1)">6</text>
<text transform="translate(250.6 379.4) scale(1.18 1)">8</text>
<text transform="translate(219.7 398.6) scale(1.18 1)">5</text>
<text transform="translate(332 293.6) scale(1.18 1)">3</text>
<text transform="translate(342.4 300.6) scale(1.18 1)">4</text>
<text transform="translate(336.3 314.6) scale(1.18 1)">11</text>
<text transform="translate(353.4 322.1) scale(1.18 1)">10</text>
<text transform="translate(325.4 364.1) scale(1.18 1)">4</text>
<text transform="translate(395 150.1) scale(1.18 1)">26</text>
<text transform="translate(448.3 160.9) scale(1.18 1)">40</text>
<text transform="translate(401.7 247.6) scale(1.18 1)">42</text>
<text transform="translate(397.75 302.1) scale(1.18 1)">28</text>
<text transform="translate(397.75 323.1) scale(1.18 1)">27</text>
<text transform="translate(484.75 324.6) scale(1.18 1)">18</text>
<text transform="translate(451.7 110.1) scale(1.18 1)">37</text>
<text transform="translate(531.1 105.6) scale(1.18 1)">38</text>
<text transform="translate(453.5 145.6) scale(1.18 1)">36</text>
<text transform="translate(567.1 176.4) scale(1.18 1)">41</text>
<text transform="translate(585.8 159.6) scale(1.18 1)">40</text>
<text transform="translate(607.6 147.1) scale(1.18 1)">39</text>
<text transform="translate(547.6 181.6) scale(1.18 1)">34</text>
<text transform="translate(547.6 198.1) scale(1.18 1)">35</text>
<text transform="translate(546.6 217.1) scale(1.18 1)">31</text>
<text transform="translate(586 232.7) scale(1.18 1)">33</text>
<text transform="translate(547.6 264.1) scale(1.18 1)">32</text>
<text transform="translate(476.3 365.1) scale(1.18 1)">19</text>
<text transform="translate(494.5 374.8) scale(1.18 1)">20</text>
<text transform="translate(363.4 424.6) scale(1.18 1)">15</text>
<text transform="translate(389.2 452.1) scale(1.18 1)">27</text>
<text transform="translate(389.2 479.1) scale(1.18 1)">29</text>
<text transform="translate(389.2 501.1) scale(1.18 1)">30</text>
<text transform="translate(463.75 478.8) scale(1.18 1)">16</text>
<text transform="translate(476.8 485.1) scale(1.18 1)">17</text>
<text transform="translate(570.6 398.1) scale(1.18 1)">1</text>
<text transform="translate(496.25 407.1) scale(1.18 1)">10</text>
<text transform="translate(512 417.6) scale(1.18 1)">11</text>
<text transform="translate(597.75 425.8) scale(1.18 1)">53</text>
<text transform="translate(574.65 436.6) scale(1.18 1)">55</text>
<text transform="translate(561 512.7) scale(1.18 1)">12</text>
<text transform="translate(582.9 522.4) scale(1.18 1)">13</text>
<text transform="translate(534.75 521.6) scale(1.18 1)">55</text>
<text transform="translate(514.6 524.1) scale(1.18 1)">54</text>
<text transform="translate(344.9 529.1) scale(1.18 1)">44</text>
<text transform="translate(414.9 552.1) scale(1.18 1)">45</text>
<text transform="translate(372 605.6) scale(1.18 1)">45</text>
<text transform="translate(395.6 616.9) scale(1.18 1)">50</text>
<text transform="translate(364.1 627.4) scale(1.18 1)">52</text>
<text transform="translate(336.1 641.8) scale(1.18 1)">51</text>
<text transform="translate(537.4 559.1) scale(1.18 1)">48</text>
<text transform="translate(519.6 616.1) scale(1.18 1)">49</text>
<text transform="translate(516 696.8) scale(1.18 1)">43</text>
<text transform="translate(539.75 708.7) scale(1.18 1)">47</text>
<text transform="translate(564.7 721.7) scale(1.18 1)">46</text>
<text transform="translate(195 707.8) rotate(-30) skewX(-12) scale(0.56 1)" style="font-weight:bold;font-size:13.8px;text-anchor:start;stroke-width:0.1px">FWD</text>

</g>
</svg>
</body></html>
